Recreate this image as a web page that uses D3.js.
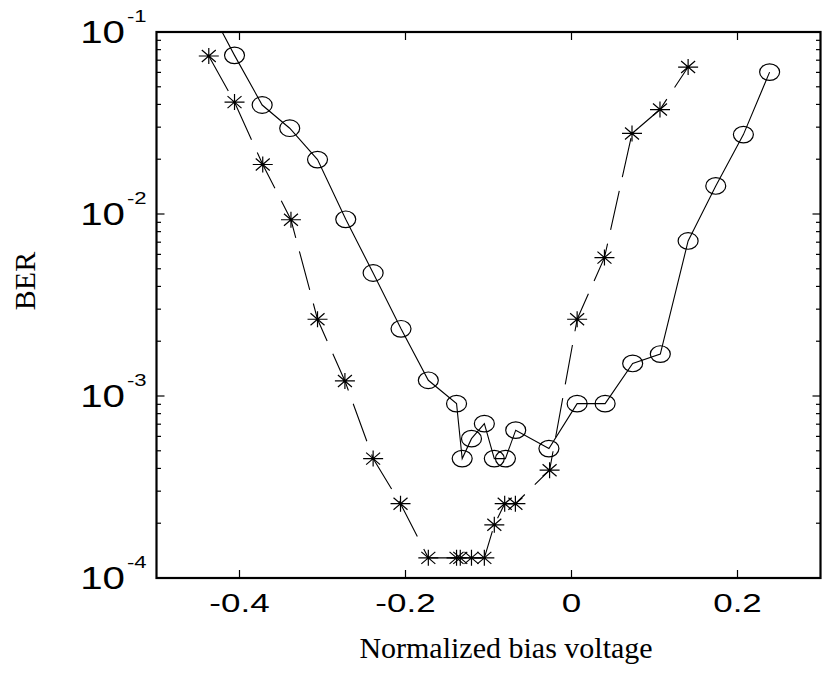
<!DOCTYPE html>
<html>
<head>
<meta charset="utf-8">
<script src="https://cdn.jsdelivr.net/npm/d3@7"></script>
<style>
  body { margin: 0; background: #fff; }
  svg { display: block; }
  .tl { font-family: 'Liberation Sans', Arial, sans-serif; fill: #000; }
  .ttl { font-family: 'Liberation Serif', 'Times New Roman', serif; fill: #000; }
</style>
</head>
<body>
<div id="chart"></div>
<script>
// data
const xTicks = [-0.4, -0.2, 0, 0.2];
const xTickLabels = ['-0.4', '-0.2', '0', '0.2'];
const yTicks = [1e-1, 1e-2, 1e-3, 1e-4];
const yTickExp = ['-1', '-2', '-3', '-4'];

// '*' series (dashed line)
const starX = [-0.437, -0.406, -0.372, -0.338, -0.306, -0.273, -0.239, -0.206, -0.1725,
  -0.1385, -0.134, -0.1205, -0.105, -0.093, -0.0805, -0.0676, -0.0264, 0.0068, 0.0397,
  0.0729, 0.1066, 0.1405];
const starY = [0.0738, 0.0412, 0.0187, 0.0093, 0.00264, 0.00121, 4.53e-4, 2.56e-4, 1.29e-4,
  1.29e-4, 1.29e-4, 1.29e-4, 1.29e-4, 1.96e-4, 2.56e-4, 2.56e-4, 3.91e-4, 2.64e-3, 5.76e-3,
  0.0277, 0.0375, 0.0642];

// 'o' series (solid line); first point is off the top of the axes
const circX = [-0.44, -0.406, -0.3727, -0.3395, -0.306, -0.272, -0.239, -0.2054, -0.1725,
  -0.1385, -0.1317, -0.1205, -0.105, -0.093, -0.0796, -0.0672, -0.0272, 0.0068, 0.0405,
  0.0737, 0.107, 0.1405, 0.1738, 0.2071, 0.2387];
const circY = [0.146, 0.0744, 0.0397, 0.0296, 0.0199, 0.00935, 0.00474, 0.00234, 1.22e-3,
  9.08e-4, 4.53e-4, 5.83e-4, 7.05e-4, 4.53e-4, 4.53e-4, 6.49e-4, 5.14e-4, 9.08e-4, 9.08e-4,
  1.51e-3, 1.70e-3, 7.11e-3, 0.01426, 0.0273, 0.0602];
const circShown = circX.map((d, i) => i > 0); // first one is clipped, no marker

const W = 827, H = 673;
const L = 156.5, R = 820.5, T = 32, B = 578;

const svg = d3.select('#chart').append('svg')
  .attr('width', W)
  .attr('height', H);

const x = d3.scaleLinear().domain([-0.5, 0.3]).range([L, R]);
const y = d3.scaleLog().domain([1e-4, 1e-1]).range([B, T]);

svg.append('clipPath').attr('id', 'plotclip')
  .append('rect').attr('x', L).attr('y', T).attr('width', R - L).attr('height', B - T);

const plot = svg.append('g').attr('clip-path', 'url(#plotclip)');

const line = d3.line().x(d => x(d[0])).y(d => y(d[1]));

const starPts = starX.map((v, i) => [v, starY[i]]);
const circPts = circX.map((v, i) => [v, circY[i]]);

// lines
plot.append('path')
  .attr('d', line(circPts))
  .attr('fill', 'none')
  .attr('stroke', '#000')
  .attr('stroke-width', 1.1);

plot.append('path')
  .attr('d', line(starPts))
  .attr('fill', 'none')
  .attr('stroke', '#000')
  .attr('stroke-width', 1.1)
  .attr('stroke-dasharray', '40,14');

// circle markers
plot.selectAll('ellipse.mk')
  .data(circPts.filter((d, i) => circShown[i]))
  .enter().append('ellipse')
  .attr('class', 'mk')
  .attr('cx', d => x(d[0]))
  .attr('cy', d => y(d[1]))
  .attr('rx', 10)
  .attr('ry', 8.3)
  .attr('fill', 'none')
  .attr('stroke', '#000')
  .attr('stroke-width', 1.2);

// star markers
const starPath = 'M-10,0L10,0M0,-8L0,8M-7,-6L7,6M-7,6L7,-6';
plot.selectAll('path.star')
  .data(starPts)
  .enter().append('path')
  .attr('class', 'star')
  .attr('transform', d => `translate(${x(d[0])},${y(d[1])})`)
  .attr('d', starPath)
  .attr('fill', 'none')
  .attr('stroke', '#000')
  .attr('stroke-width', 1.2);

// ticks (inward, all four sides)
const tk = svg.append('g').attr('stroke', '#000').attr('stroke-width', 1.2);
xTicks.forEach(t => {
  tk.append('line').attr('x1', x(t)).attr('x2', x(t)).attr('y1', B).attr('y2', B - 8);
  tk.append('line').attr('x1', x(t)).attr('x2', x(t)).attr('y1', T).attr('y2', T + 8);
});
const minor = [];
[1e-4, 1e-3, 1e-2].forEach(dec => {
  for (let m = 2; m <= 9; m++) minor.push(dec * m);
});
yTicks.forEach(t => {
  tk.append('line').attr('x1', L).attr('x2', L + 8).attr('y1', y(t)).attr('y2', y(t));
  tk.append('line').attr('x1', R).attr('x2', R - 8).attr('y1', y(t)).attr('y2', y(t));
});
minor.forEach(t => {
  tk.append('line').attr('x1', L).attr('x2', L + 4.5).attr('y1', y(t)).attr('y2', y(t));
  tk.append('line').attr('x1', R).attr('x2', R - 4.5).attr('y1', y(t)).attr('y2', y(t));
});

// box
svg.append('rect')
  .attr('x', L).attr('y', T)
  .attr('width', R - L).attr('height', B - T)
  .attr('fill', 'none')
  .attr('stroke', '#000')
  .attr('stroke-width', 2.2);

// tick labels (the original text is stretched sideways)
xTicks.forEach((t, i) => {
  svg.append('text')
    .attr('class', 'tl')
    .attr('transform', `translate(${x(t)},612) scale(1.4,1)`)
    .attr('text-anchor', 'middle')
    .attr('font-size', 25)
    .text(xTickLabels[i]);
});

yTicks.forEach((t, i) => {
  const g = svg.append('g')
    .attr('transform', `translate(125,${y(t)}) scale(1.3,1)`);
  g.append('text')
    .attr('class', 'tl')
    .attr('x', 0).attr('y', 11)
    .attr('text-anchor', 'end')
    .attr('font-size', 31)
    .text('10');
  g.append('text')
    .attr('class', 'tl')
    .attr('x', 1.5).attr('y', -10)
    .attr('text-anchor', 'start')
    .attr('font-size', 17)
    .text(yTickExp[i]);
});

// axis titles
svg.append('text')
  .attr('class', 'ttl')
  .attr('x', 506).attr('y', 658)
  .attr('text-anchor', 'middle')
  .attr('font-size', 30)
  .text('Normalized bias voltage');

svg.append('text')
  .attr('class', 'ttl')
  .attr('transform', 'translate(35,281) rotate(-90)')
  .attr('text-anchor', 'middle')
  .attr('font-size', 30)
  .text('BER');
</script>
</body>
</html>
